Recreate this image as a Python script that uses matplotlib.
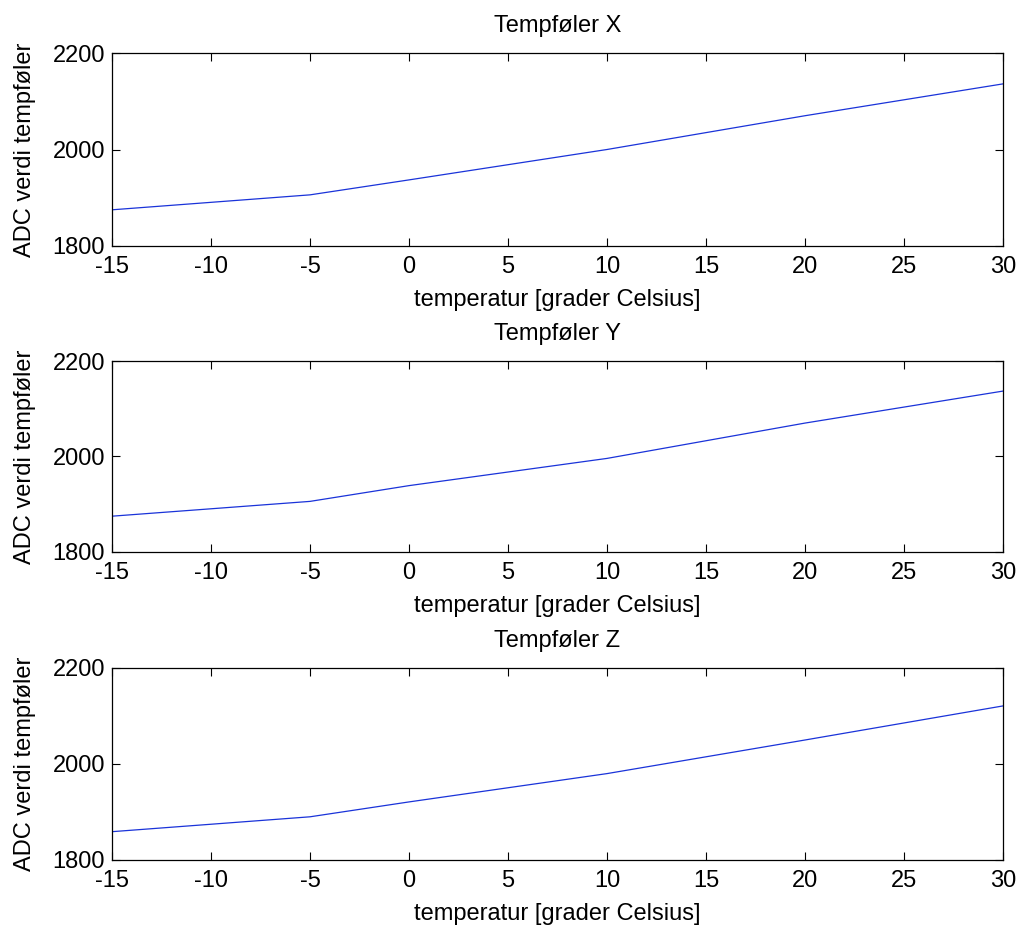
import matplotlib
matplotlib.use("Agg")
import matplotlib.pyplot as plt

plt.rcParams['font.family'] = ['Liberation Sans', 'DejaVu Sans']
plt.rcParams['axes.unicode_minus'] = False

# temperature points (deg C)
temp = [-15, -5, 0, 10, 20, 30]

# ADC readings per sensor
adc_x = [1875, 1906, 1937, 2000, 2070, 2136]
adc_y = [1875, 1906, 1939, 1996, 2070, 2137]
adc_z = [1859, 1890, 1921, 1980, 2050, 2121]

titles = ["Tempføler X", "Tempføler Y", "Tempføler Z"]
series = [adc_x, adc_y, adc_z]

xticks = [-15, -10, -5, 0, 5, 10, 15, 20, 25, 30]
yticks = [1800, 2000, 2200]

fig = plt.figure(figsize=(10.21, 9.26), dpi=100)

# axes boxes in pixels: (top, bottom)
boxes = [(53, 246), (361, 552), (668, 860)]
W, H = 1021, 926
left, right = 112, 1003

for (top, bot), title, vals in zip(boxes, titles, series):
    ax = fig.add_axes([left / W, 1 - bot / H, (right - left) / W, (bot - top) / H])
    ax.plot(temp, vals, color=(0.1, 0.2, 0.85), lw=0.9)
    ax.set_xlim(-15, 30)
    ax.set_ylim(1800, 2200)
    ax.set_xticks(xticks)
    ax.set_yticks(yticks)
    ax.tick_params(direction='in', top=True, right=True, length=6, width=0.8,
                   labelsize=17)
    ax.tick_params(axis='x', pad=7)
    ax.tick_params(axis='y', pad=5)
    for s in ax.spines.values():
        s.set_linewidth(0.9)
    ax.set_title(title, fontsize=17, pad=15)
    ax.set_xlabel("temperatur [grader Celsius]", fontsize=17, labelpad=8)
    ax.set_ylabel("ADC verdi tempføler", fontsize=17, labelpad=12)

fig.savefig("out.png", dpi=100)
